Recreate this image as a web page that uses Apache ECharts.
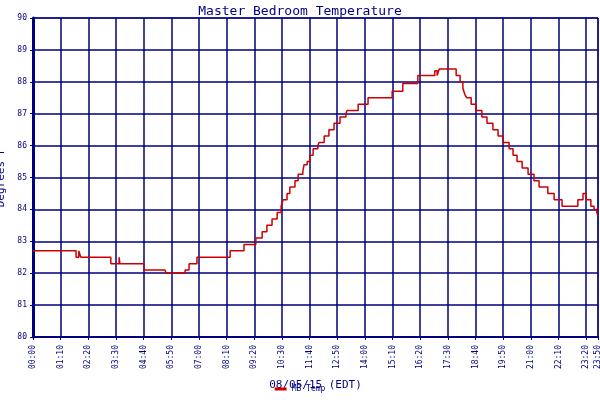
<!DOCTYPE html>
<html><head><meta charset="utf-8">
<script src="https://cdn.jsdelivr.net/npm/echarts@6/dist/echarts.min.js"></script>
<style>html,body{margin:0;background:#fff}#c{width:600px;height:400px}</style>
</head><body><div id="c"></div>
<script>
var minutes = [0,109,116,121,123,197,218,220,223,281,334,337,385,395,415,499,534,564,580,592,605,618,628,633,643,650,663,671,683,686,694,701,709,721,724,737,749,762,777,792,795,823,848,909,936,974,1017,1023,1028,1071,1073,1081,1088,1093,1098,1109,1121,1136,1149,1164,1177,1190,1205,1215,1225,1238,1253,1268,1281,1303,1319,1339,1379,1392,1400,1412,1420,1427,1430];
var temps = [82.7,82.5,82.7,82.5,82.5,82.3,82.5,82.3,82.3,82.1,82.05,82.0,82.1,82.3,82.5,82.7,82.9,83.1,83.3,83.5,83.7,83.9,84.1,84.3,84.5,84.7,84.9,85.1,85.2,85.4,85.5,85.7,85.9,86.0,86.1,86.3,86.5,86.7,86.9,87.0,87.1,87.3,87.5,87.7,87.95,88.2,88.35,88.2,88.4,88.2,88.2,88.0,87.8,87.6,87.5,87.3,87.1,86.9,86.7,86.5,86.3,86.1,85.9,85.7,85.5,85.3,85.1,84.9,84.7,84.5,84.3,84.1,84.3,84.5,84.3,84.1,84.0,83.9,83.8];
var data = minutes.map(function(m,i){return [m,temps[i]];});
function fmt(v){var h=Math.floor(v/60),m=Math.round(v%60);return (h<10?'0':'')+h+':'+(m<10?'0':'')+m;}
var navy='#000080', font='DejaVu Sans Mono';
var ch = echarts.init(document.getElementById('c'));
ch.setOption({
  animation:false,
  title:{text:'Master Bedroom Temperature',left:'center',top:0,textStyle:{fontFamily:font,fontSize:13,fontWeight:'normal',color:navy}},
  legend:{bottom:2,left:'center',itemWidth:12,itemHeight:3,icon:'rect',data:['MB Temp'],textStyle:{fontFamily:font,fontSize:8,color:navy}},
  grid:{left:33,right:2,top:18,bottom:63,show:true,borderColor:navy,borderWidth:1,outerBoundsMode:'none',containLabel:false},
  xAxis:{type:'value',min:0,max:1430,interval:70,name:'08/05/15 (EDT)',nameLocation:'middle',nameGap:43,
    nameTextStyle:{fontFamily:font,fontSize:11,color:navy},
    axisLine:{lineStyle:{color:navy,width:2}},axisTick:{show:true,length:3,lineStyle:{color:navy}},
    axisLabel:{rotate:90,formatter:fmt,fontFamily:font,fontSize:8,color:navy,showMaxLabel:true},
    splitLine:{show:true,lineStyle:{color:navy,width:1.5}}},
  yAxis:{type:'value',min:80,max:90,interval:1,name:'Degrees F',nameLocation:'middle',nameGap:22,
    nameTextStyle:{fontFamily:font,fontSize:11,color:navy},
    axisLine:{show:true,lineStyle:{color:navy,width:3}},axisTick:{show:true,length:3,lineStyle:{color:navy}},
    axisLabel:{fontFamily:font,fontSize:8,color:navy,margin:6},
    splitLine:{show:true,lineStyle:{color:navy,width:1.5}}},
  series:[{name:'MB Temp',type:'line',step:'end',data:data,showSymbol:false,symbol:'none',
    lineStyle:{color:'#cc0000',width:1.5},itemStyle:{color:'#cc0000'}}]
});
</script></body></html>
